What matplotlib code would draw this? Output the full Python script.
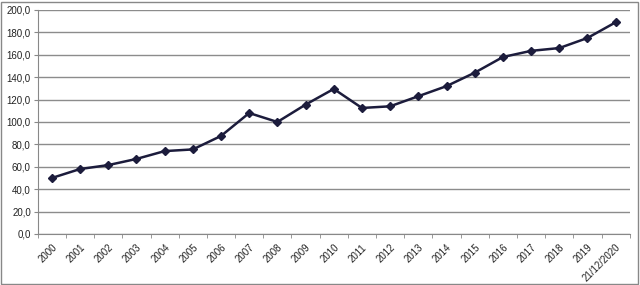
import matplotlib.pyplot as plt
import matplotlib.ticker as ticker
from matplotlib.patches import Rectangle

years = ['2000', '2001', '2002', '2003', '2004', '2005', '2006', '2007', '2008', '2009',
         '2010', '2011', '2012', '2013', '2014', '2015', '2016', '2017', '2018', '2019',
         '21/12/2020']
values = [50.0, 58.0, 61.5, 67.0, 74.0, 75.5, 87.5, 108.0, 100.0, 115.5,
          129.5, 112.5, 114.0, 123.0, 132.0, 144.0, 158.0, 163.5, 166.0, 175.0,
          189.0]
yticks = [0, 20, 40, 60, 80, 100, 120, 140, 160, 180, 200]

plt.rcParams['font.family'] = 'Liberation Sans'

fig = plt.figure(figsize=(6.4, 2.85), dpi=100)
ax = fig.add_axes([0.059, 0.179, 0.925, 0.786])

# outer frame
fig.patches.append(Rectangle((0.002, 0.004), 0.995, 0.99, transform=fig.transFigure,
                             fill=False, edgecolor='#888888', linewidth=1))

x = list(range(len(years)))
ax.plot(x, values, color='#1c1c3c', linewidth=1.8, marker='D', markersize=4,
        markerfacecolor='#1c1c3c', markeredgecolor='#1c1c3c', zorder=3)

ax.set_xlim(-0.5, len(years) - 0.5)
ax.set_ylim(0, 200)
ax.set_yticks(yticks)
ax.yaxis.set_major_formatter(ticker.FuncFormatter(lambda v, p: f'{v:.1f}'.replace('.', ',')))
ax.grid(axis='y', color='#8c8c8c', linewidth=1)
ax.set_axisbelow(True)

# category labels at centres, tick marks at boundaries
ax.set_xticks(x)
ax.set_xticklabels(years, rotation=45, ha='right', rotation_mode='anchor', fontsize=7,
                   color='#222222')
ax.set_xticks([i - 0.5 for i in range(len(years) + 1)], minor=True)
ax.tick_params(axis='x', which='major', length=0, pad=6)
ax.tick_params(axis='x', which='minor', length=3, color='#888888')
ax.tick_params(axis='y', length=3, color='#888888', labelsize=7, labelcolor='#222222', pad=2)

for s in ['top', 'right']:
    ax.spines[s].set_visible(False)
for s in ['left', 'bottom']:
    ax.spines[s].set_color('#888888')

fig.savefig('out.png', dpi=100)
